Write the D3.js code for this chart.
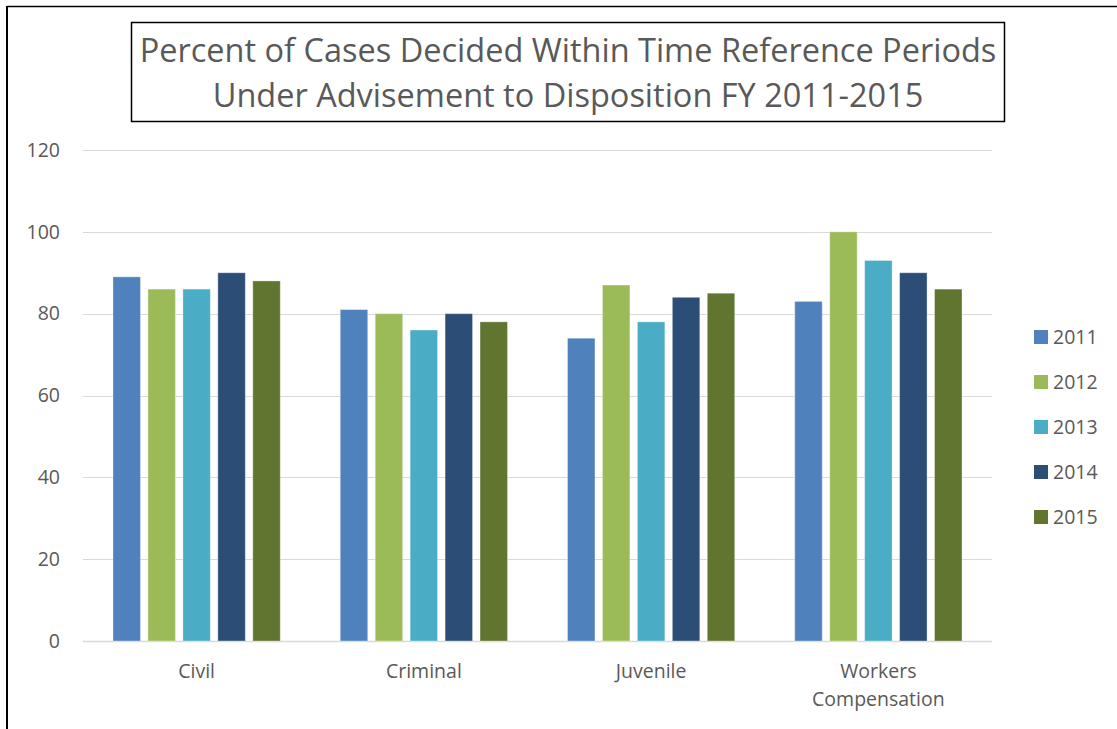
<!DOCTYPE html>
<html>
<head>
<meta charset="utf-8">
<script src="https://cdn.jsdelivr.net/npm/d3@7"></script>
<style>
  body { margin: 0; background: #fff; }
  text { font-family: "Open Sans", Lato, sans-serif; fill: #595959; }
</style>
</head>
<body>
<div id="chart"></div>
<script>
const categories = ["Civil", "Criminal", "Juvenile", "Workers Compensation"];
const years = ["2011", "2012", "2013", "2014", "2015"];
const values2011 = [89, 81, 74, 83];
const values2012 = [86, 80, 87, 100];
const values2013 = [86, 76, 78, 93];
const values2014 = [90, 80, 84, 90];
const values2015 = [88, 78, 85, 86];
const yTicks = [0, 20, 40, 60, 80, 100, 120];
const colors = ["#4f81bd", "#9bbb59", "#4bacc6", "#2c4d75", "#5f7530"];
const titleLines = ["Percent of Cases Decided Within Time Reference Periods",
                    "Under Advisement to Disposition FY 2011-2015"];

const series = [values2011, values2012, values2013, values2014, values2015];

const width = 1117, height = 729;
const svg = d3.select("#chart").append("svg")
  .attr("width", width)
  .attr("height", height);

// outer frame (top + left edges visible)
svg.append("line").attr("x1", 7).attr("x2", width).attr("y1", 6.5).attr("y2", 6.5)
  .attr("stroke", "#000").attr("stroke-width", 1.5);
svg.append("line").attr("x1", 7).attr("x2", 7).attr("y1", 6).attr("y2", height)
  .attr("stroke", "#000").attr("stroke-width", 2);

// title box
svg.append("rect")
  .attr("x", 131.5).attr("y", 22.5).attr("width", 873).attr("height", 99)
  .attr("fill", "#fff").attr("stroke", "#000").attr("stroke-width", 1.5);
svg.selectAll(".title")
  .data(titleLines)
  .enter().append("text")
  .attr("class", "title")
  .attr("x", 568)
  .attr("y", (d, i) => 62 + i * 45)
  .attr("text-anchor", "middle")
  .style("font-size", "32.5px")
  .text(d => d);

// scales
const x0 = d3.scaleBand()
  .domain(categories)
  .range([83, 992])
  .paddingInner(0.264)
  .paddingOuter(0.132);

const x1 = d3.scaleBand()
  .domain(years)
  .range([0, x0.bandwidth()])
  .paddingInner(0.214);

const y = d3.scaleLinear()
  .domain([0, 120])
  .range([641, 150]);

// gridlines
svg.append("g")
  .selectAll("line")
  .data(yTicks)
  .enter().append("line")
  .attr("x1", 83).attr("x2", 992)
  .attr("y1", d => Math.round(y(d)) + 0.5)
  .attr("y2", d => Math.round(y(d)) + 0.5)
  .attr("stroke", "#d9d9d9")
  .attr("stroke-width", d => d === 0 ? 1.5 : 1);

// y labels
svg.append("g")
  .selectAll("text")
  .data(yTicks)
  .enter().append("text")
  .attr("x", 60)
  .attr("y", d => y(d))
  .attr("dy", "0.35em")
  .attr("text-anchor", "end")
  .style("font-size", "19.5px")
  .text(d => d);

// bars
const groups = svg.append("g")
  .selectAll("g")
  .data(categories)
  .enter().append("g")
  .attr("transform", d => "translate(" + x0(d) + ",0)");

groups.selectAll("rect")
  .data((c, ci) => years.map((yr, i) => ({ year: yr, i: i, value: series[i][ci] })))
  .enter().append("rect")
  .attr("x", d => x1(d.year))
  .attr("y", d => y(d.value))
  .attr("width", x1.bandwidth())
  .attr("height", d => y(0) - y(d.value))
  .attr("fill", d => colors[d.i])
  .attr("stroke", "rgba(255,255,255,0.35)")
  .attr("stroke-width", 1);

// category labels
svg.append("g")
  .selectAll("text")
  .data(categories)
  .enter().append("text")
  .attr("x", d => x0(d) + x0.bandwidth() / 2)
  .attr("y", 678)
  .attr("text-anchor", "middle")
  .style("font-size", "19.5px")
  .each(function(d) {
    const words = d === "Workers Compensation" ? ["Workers", "Compensation"] : [d];
    d3.select(this).selectAll("tspan")
      .data(words)
      .enter().append("tspan")
      .attr("x", x0(d) + x0.bandwidth() / 2)
      .attr("dy", (w, i) => i === 0 ? 0 : 28)
      .text(w => w);
  });

// legend
const legend = svg.append("g")
  .selectAll("g")
  .data(years)
  .enter().append("g")
  .attr("transform", (d, i) => "translate(1034," + (337 + i * 45) + ")");

legend.append("rect")
  .attr("x", 0).attr("y", -7)
  .attr("width", 14).attr("height", 14)
  .attr("fill", (d, i) => colors[i]);

legend.append("text")
  .attr("x", 19)
  .attr("y", 0)
  .attr("dy", "0.35em")
  .style("font-size", "19.5px")
  .text(d => d);
</script>
</body>
</html>
